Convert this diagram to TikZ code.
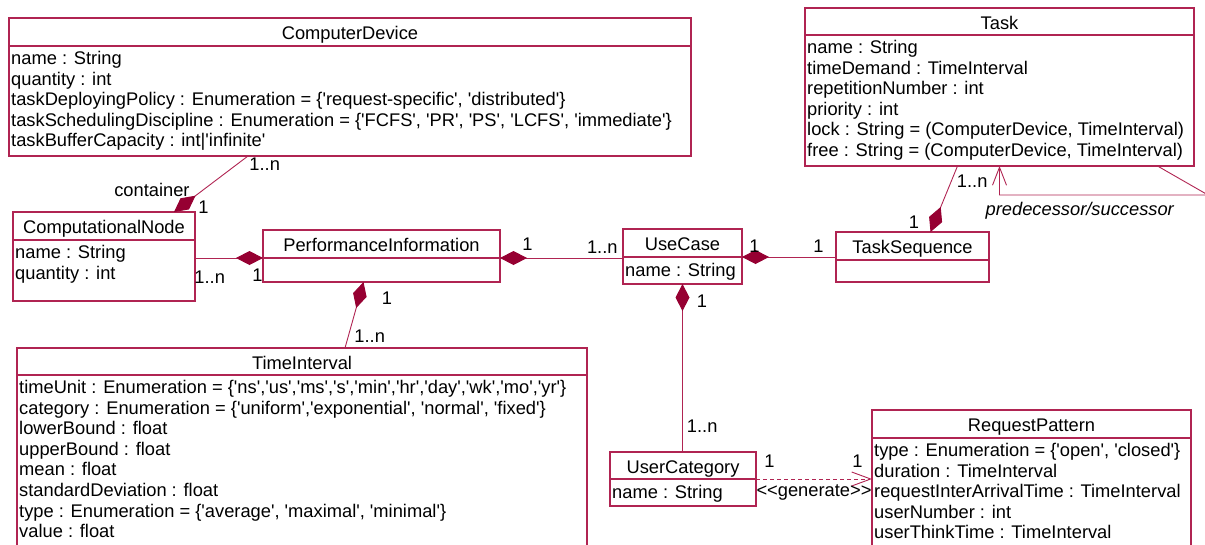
\documentclass[tikz,border=0pt]{standalone}
\usepackage{fontspec}
\newfontfamily\umlfont{Liberation Sans}
\usetikzlibrary{arrows.meta, positioning}
\definecolor{umlred}{RGB}{176,36,82}
\definecolor{umldark}{RGB}{150,0,50}

\begin{document}
\begin{tikzpicture}[
    x=1pt, y=-1pt,
    every node/.style={font=\umlfont\fontsize{18.3}{20.6}\selectfont},
    head/.style={rectangle, draw=umlred, line width=1.1pt, outer sep=0pt, inner sep=0pt, anchor=north west, text height=15pt, text depth=0pt},
    body/.style={rectangle, draw=umlred, line width=1.1pt, outer sep=0pt, inner sep=0pt},
    attrs/.style={anchor=north west, align=left, inner xsep=2pt, inner ysep=5pt, execute at begin node=\strut},
    mult/.style={inner sep=0pt},
    assoc/.style={draw=umlred, line width=0.9pt},
    comp/.style={assoc, {Diamond[length=27pt, width=14pt, color=umldark, fill=umldark]}-}
]

\useasboundingbox (0,0) rectangle (1205,544);
\clip (0,0) rectangle (1205,544);

\node[head, minimum width=682, minimum height=28] (cdhead) at (9,18) {ComputerDevice};
\node[body, minimum width=682, minimum height=110, below=0pt of cdhead] (cdbody) {};
\node[attrs] (cdattr) at (cdbody.north west) {name : String\\quantity : int\\taskDeployingPolicy : Enumeration = \{'request-specific', 'distributed'\}\\taskSchedulingDiscipline : Enumeration = \{'FCFS', 'PR', 'PS', 'LCFS', 'immediate'\}\\taskBufferCapacity : int|'infinite'};

\node[head, minimum width=389, minimum height=27] (taskhead) at (805,8) {Task};
\node[body, minimum width=389, minimum height=131, below=0pt of taskhead] (taskbody) {};
\node[attrs] (taskattr) at (taskbody.north west) {name : String\\timeDemand : TimeInterval\\repetitionNumber : int\\priority : int\\lock : String = (ComputerDevice, TimeInterval)\\free : String = (ComputerDevice, TimeInterval)};

\node[head, minimum width=182, minimum height=28] (cnhead) at (13,212) {ComputationalNode};
\node[body, minimum width=182, minimum height=61, below=0pt of cnhead] (cnbody) {};
\node[attrs] (cnattr) at (cnbody.north west) {name : String\\quantity : int};

\node[head, minimum width=237, minimum height=28] (pihead) at (263,230) {PerformanceInformation};
\node[body, minimum width=237, minimum height=24, below=0pt of pihead] (pibody) {};

\node[head, minimum width=119, minimum height=28] (uchead) at (623,229) {UseCase};
\node[body, minimum width=119, minimum height=27, below=0pt of uchead] (ucbody) {};
\node[attrs] (ucattr) at (ucbody.north west) {name : String};

\node[head, minimum width=153, minimum height=28] (tshead) at (836,232) {TaskSequence};
\node[body, minimum width=153, minimum height=22, below=0pt of tshead] (tsbody) {};

\node[head, minimum width=570, minimum height=27] (tihead) at (17,348) {TimeInterval};
\node[body, minimum width=570, minimum height=200, below=0pt of tihead] (tibody) {};
\node[attrs] (tiattr) at (tibody.north west) {timeUnit : Enumeration = \{'ns','us','ms','s','min','hr','day','wk','mo','yr'\}\\category : Enumeration = \{'uniform','exponential', 'normal', 'fixed'\}\\lowerBound : float\\upperBound : float\\mean : float\\standardDeviation : float\\type : Enumeration = \{'average', 'maximal', 'minimal'\}\\value : float};

\node[head, minimum width=146, minimum height=27] (usrhead) at (610,452) {UserCategory};
\node[body, minimum width=146, minimum height=27, below=0pt of usrhead] (usrbody) {};
\node[attrs] (usrattr) at (usrbody.north west) {name : String};

\node[head, minimum width=319, minimum height=28] (rphead) at (872,410) {RequestPattern};
\node[body, minimum width=319, minimum height=150, below=0pt of rphead] (rpbody) {};
\node[attrs] (rpattr) at (rpbody.north west) {type : Enumeration = \{'open', 'closed'\}\\duration : TimeInterval\\requestInterArrivalTime : TimeInterval\\userNumber : int\\userThinkTime : TimeInterval};

\coordinate (loopcorner) at (1208,195);

\draw[comp] ([xshift=-21pt]cnhead.north east) -- ([xshift=239pt]cdbody.south west)
    node[mult, at start, anchor=base east, xshift=16pt, yshift=16pt] (cncontainer) {container}
    node[mult, at start, anchor=base west, xshift=24pt, yshift=-1pt] (cnone) {1}
    node[mult, at end, anchor=base west, xshift=1pt, yshift=-14pt] (cdmany) {1..n};
\draw[comp] (pihead.south west) -- (pihead.south west -| cnbody.east)
    node[mult, at start, anchor=base east, yshift=-23pt] (pione) {1}
    node[mult, at end, anchor=base west, xshift=-1pt, yshift=-25pt] (cnmany) {1..n};
\draw[comp] (pihead.south east) -- (pihead.south east -| uchead.west)
    node[mult, at start, anchor=base west, xshift=22pt, yshift=8pt] (pitwo) {1}
    node[mult, at end, anchor=base east, xshift=-5pt, yshift=5pt] (ucmany) {1..n};
\draw[comp] (uchead.south east) -- (uchead.south east -| tshead.west)
    node[mult, at start, anchor=base west, xshift=7pt, yshift=5pt] (ucone) {1}
    node[mult, at end, anchor=base east, xshift=-12pt, yshift=5pt] (tsone) {1};
\draw[comp] (ucbody.south) -- (ucbody.south |- usrhead.north)
    node[mult, at start, anchor=base west, xshift=14pt, yshift=-23pt] (uctwo) {1}
    node[mult, at end, anchor=base west, xshift=4pt, yshift=20pt] (usrmany) {1..n};
\draw[comp] ([xshift=-18pt]pibody.south) -- ([xshift=43pt]tihead.north)
    node[mult, at start, anchor=base west, xshift=18pt, yshift=-22pt] (pithree) {1}
    node[mult, at end, anchor=base west, xshift=9pt, yshift=6pt] (timany) {1..n};
\draw[comp] ([xshift=18pt]tshead.north) -- ([xshift=-42pt]taskbody.south)
    node[mult, at start, anchor=base east, xshift=-11pt, yshift=4pt] (tstwo) {1}
    node[mult, at end, anchor=base west, xshift=-1pt, yshift=-21pt] (taskmany) {1..n};
\draw[assoc, -{Straight Barb[length=18pt, width=14pt]}] ([xshift=158pt]taskbody.south) -- (loopcorner) -| (taskbody.south)
    node[mult, pos=0.25, anchor=base, xshift=-24pt, yshift=-20pt, font=\umlfont\itshape\fontsize{18.3}{20.6}\selectfont] (taskrole) {predecessor/successor};
\draw[assoc, dash pattern=on 4pt off 3pt, -{Straight Barb[length=19pt, width=14pt]}] (usrhead.south east) -- (usrhead.south east -| rphead.west)
    node[mult, at start, anchor=base west, xshift=8pt, yshift=12pt] (usrone) {1}
    node[mult, at end, anchor=base east, xshift=-9pt, yshift=12pt] (rpone) {1}
    node[mult, midway, anchor=base, yshift=-17pt] (generate) {<<generate>>};

\end{tikzpicture}
\end{document}
